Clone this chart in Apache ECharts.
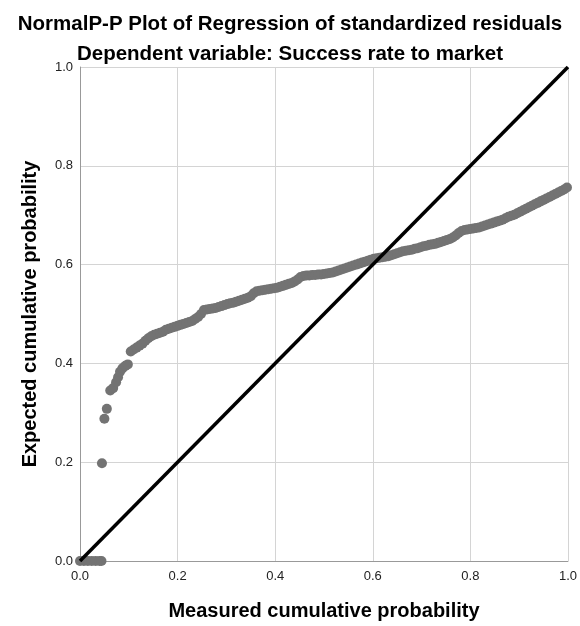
<!DOCTYPE html>
<html>
<head>
<meta charset="utf-8">
<script src="https://cdn.jsdelivr.net/npm/echarts@6/dist/echarts.min.js"></script>
<style>html,body{margin:0;padding:0;background:#fff;}#chart{width:580px;height:626px;}</style>
</head>
<body>
<div id="chart"></div>
<script>
var titleText = "NormalP-P Plot of Regression of standardized residuals";
var subTitleText = "Dependent variable: Success rate to market";
var xAxisName = "Measured cumulative probability";
var yAxisName = "Expected cumulative probability";
var tickValues = [0.0, 0.2, 0.4, 0.6, 0.8, 1.0];

var measuredP = [
0.000,0.008,0.016,0.024,0.032,0.040,0.044,
0.045,0.050,0.055,0.062,0.068,0.074,0.078,0.082,0.087,0.093,0.098,
0.104,0.110,0.116,0.122,0.128,0.134,0.140,0.146,0.152,0.158,0.164,0.170,0.176,0.182,0.188,0.194,
0.200,0.206,0.212,0.218,0.224,0.230,0.236,0.242,0.248,0.254,0.260,0.266,0.272,0.278,0.284,0.290,0.296,
0.302,0.308,0.314,0.320,0.326,0.332,0.338,0.344,0.350,0.356,0.362,0.368,0.374,0.380,0.386,0.392,0.398,
0.404,0.410,0.416,0.422,0.428,0.434,0.440,0.446,0.452,0.458,0.464,0.470,0.476,0.482,0.488,0.494,
0.500,0.506,0.512,0.518,0.524,0.530,0.536,0.542,0.548,0.554,0.560,0.566,0.572,0.578,0.584,0.590,0.596,
0.602,0.608,0.614,0.620,0.626,0.632,0.638,0.644,0.650,0.656,0.662,0.668,0.674,0.680,0.686,0.692,0.698,
0.704,0.710,0.716,0.722,0.728,0.734,0.740,0.746,0.752,0.758,0.764,0.770,0.776,0.782,0.788,0.794,
0.800,0.806,0.812,0.818,0.824,0.830,0.836,0.842,0.848,0.854,0.860,0.866,0.872,0.878,0.884,0.890,0.896,
0.902,0.908,0.914,0.920,0.926,0.932,0.938,0.944,0.950,0.956,0.962,0.968,0.974,0.980,0.986,0.992,0.998
];
var expectedP = [
0,0,0,0,0,0,0,
0.198,0.288,0.308,0.345,0.350,0.362,0.372,0.383,0.390,0.395,0.398,
0.424,0.428,0.432,0.436,0.440,0.446,0.451,0.455,0.458,0.460,0.462,0.464,0.468,0.470,0.472,0.474,
0.476,0.478,0.480,0.482,0.484,0.486,0.490,0.494,0.500,0.508,0.509,0.510,0.511,0.512,0.514,0.516,0.518,
0.520,0.522,0.523,0.525,0.527,0.529,0.531,0.533,0.536,0.542,0.546,0.547,0.548,0.549,0.550,0.551,0.552,
0.553,0.555,0.557,0.559,0.561,0.563,0.566,0.570,0.575,0.577,0.578,0.578,0.579,0.579,0.580,0.580,
0.581,0.582,0.583,0.584,0.586,0.588,0.590,0.592,0.594,0.596,0.598,0.600,0.602,0.604,0.606,0.608,0.610,
0.612,0.613,0.614,0.615,0.616,0.617,0.619,0.621,0.623,0.625,0.627,0.628,0.629,0.630,0.632,0.633,0.635,
0.637,0.638,0.640,0.641,0.642,0.644,0.646,0.648,0.650,0.652,0.655,0.659,0.664,0.668,0.670,0.671,
0.672,0.673,0.674,0.675,0.677,0.679,0.681,0.683,0.685,0.687,0.689,0.691,0.694,0.697,0.699,0.701,0.704,
0.707,0.710,0.713,0.716,0.719,0.722,0.725,0.728,0.731,0.734,0.737,0.740,0.743,0.746,0.749,0.752,0.756
];
var refLineX = [0, 1];
var refLineY = [0, 1];

var points = measuredP.map(function (x, i) { return [x, expectedP[i]]; });
var refLine = refLineX.map(function (x, i) { return [x, refLineY[i]]; });

var chart = echarts.init(document.getElementById('chart'), null, {renderer: 'canvas'});
var fontFam = '"Liberation Sans", Arial, sans-serif';
chart.setOption({
  animation: false,
  backgroundColor: '#ffffff',
  title: [
    {text: titleText, left: 'center', top: 9,
     textStyle: {fontFamily: fontFam, fontSize: 20.5, fontWeight: 'bold', color: '#000'}},
    {text: subTitleText, left: 'center', top: 39,
     textStyle: {fontFamily: fontFam, fontSize: 20.5, fontWeight: 'bold', color: '#000'}}
  ],
  grid: {left: 80, right: 10, top: 67, bottom: 65, containLabel: false},
  xAxis: {
    type: 'value', min: 0, max: 1, interval: 0.2,
    name: xAxisName, nameLocation: 'middle', nameGap: 40,
    nameTextStyle: {fontFamily: fontFam, fontSize: 20, fontWeight: 'bold', color: '#000'},
    axisLine: {show: true, lineStyle: {color: '#999', width: 1}},
    axisTick: {show: false},
    splitLine: {show: true, lineStyle: {color: '#d4d4d4', width: 1}},
    axisLabel: {fontFamily: fontFam, fontSize: 13, color: '#222', margin: 9,
      formatter: function (v) { return tickValues.indexOf(Math.round(v*10)/10) >= 0 ? v.toFixed(1) : ''; }}
  },
  yAxis: {
    type: 'value', min: 0, max: 1, interval: 0.2,
    name: yAxisName, nameLocation: 'middle', nameGap: 40,
    nameTextStyle: {fontFamily: fontFam, fontSize: 20, fontWeight: 'bold', color: '#000'},
    axisLine: {show: true, lineStyle: {color: '#999', width: 1}},
    axisTick: {show: false},
    splitLine: {show: true, lineStyle: {color: '#d4d4d4', width: 1}},
    axisLabel: {fontFamily: fontFam, fontSize: 13, color: '#222', margin: 7,
      formatter: function (v) { return v.toFixed(1); }}
  },
  series: [
    {type: 'scatter', data: points, symbol: 'circle', symbolSize: 10,
     itemStyle: {color: '#737373', opacity: 1}, clip: true, z: 2},
    {type: 'line', data: refLine, showSymbol: false, symbol: 'none',
     lineStyle: {color: '#000', width: 3.5}, z: 3, silent: true}
  ]
});
</script>
</body>
</html>
